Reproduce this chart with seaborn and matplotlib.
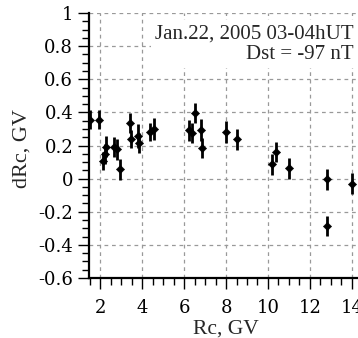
import numpy as np
import pandas as pd
import matplotlib
matplotlib.use("Agg")
import matplotlib.pyplot as plt
from matplotlib.ticker import MultipleLocator
import seaborn as sns

# Data
rc = [1.48, 1.95, 2.14, 2.22, 2.27, 2.64, 2.80, 2.94, 3.42, 3.47, 3.78, 3.82,
      4.38, 4.54, 6.22, 6.36, 6.50, 6.82, 6.87, 8.01, 8.52, 10.21, 10.40,
      11.00, 12.80, 12.80, 14.02]
drc = [0.357, 0.357, 0.106, 0.147, 0.193, 0.193, 0.177, 0.056, 0.338, 0.237,
       0.257, 0.217, 0.283, 0.300, 0.291, 0.277, 0.394, 0.293, 0.187, 0.283,
       0.237, 0.086, 0.160, 0.062, -0.004, -0.286, -0.030]
err = [0.055, 0.060, 0.055, 0.060, 0.065, 0.060, 0.065, 0.065, 0.060, 0.055,
       0.070, 0.060, 0.055, 0.065, 0.065, 0.060, 0.060, 0.065, 0.060, 0.065,
       0.065, 0.065, 0.060, 0.065, 0.062, 0.060, 0.065]

df = pd.DataFrame({"Rc": rc, "dRc": drc, "err": err})

sns.set_style("white")
plt.rcParams['font.family'] = ['Liberation Serif', 'DejaVu Serif']
plt.rcParams['axes.unicode_minus'] = False

fig = plt.figure(figsize=(3.58, 3.38), dpi=100)
ax = fig.add_axes([0.249, 0.1775, 0.751, 0.784])

ax.errorbar(df["Rc"], df["dRc"], yerr=df["err"], fmt="none",
            ecolor="black", elinewidth=2, capsize=0, zorder=3)
sns.scatterplot(data=df, x="Rc", y="dRc", ax=ax, marker="D", s=18,
                color="black", edgecolor="black", zorder=4, legend=False)

ax.set_xlim(1.46, 14.3)
ax.set_ylim(-0.6, 1.0)
ax.xaxis.set_major_locator(MultipleLocator(2))
ax.xaxis.set_minor_locator(MultipleLocator(0.5))
ax.yaxis.set_major_locator(MultipleLocator(0.2))
ax.yaxis.set_minor_locator(MultipleLocator(0.05))
ax.yaxis.set_major_formatter(plt.FuncFormatter(
    lambda v, p: "1" if abs(v - 1) < 1e-6 else ("0" if abs(v) < 1e-6 else f"{v:.1f}")))

ax.grid(True, which="major", color="#999999", linestyle=(0, (3, 3)), linewidth=0.9)
ax.set_axisbelow(True)
for s in ["top", "right"]:
    ax.spines[s].set_visible(False)
for s in ["left", "bottom"]:
    ax.spines[s].set_color("black")
    ax.spines[s].set_linewidth(1.6)

ax.tick_params(which="major", direction="out", length=8, width=1, colors="black",
               labelsize=13, left=True, bottom=True)
ax.tick_params(axis="x", which="major", pad=7)
ax.tick_params(which="minor", direction="out", length=5, width=1, colors="black",
               left=True, bottom=True)
for lab in ax.get_xticklabels() + ax.get_yticklabels():
    lab.set_family("DejaVu Serif")

ax.set_xlabel("Rc, GV", fontsize=15.5)
ax.set_ylabel("dRc, GV", fontsize=16)
ax.xaxis.set_label_coords(0.509, -0.158)
ax.yaxis.set_label_coords(-0.215, 0.49)

ax.text(0.985, 0.957, "Jan.22, 2005 03-04hUT\nDst = -97 nT", transform=ax.transAxes,
        ha="right", va="top", fontsize=15, linespacing=1.1, zorder=2.5,
        multialignment="right",
        bbox=dict(facecolor="white", edgecolor="none", pad=3))

fig.savefig("out.png", dpi=100)
